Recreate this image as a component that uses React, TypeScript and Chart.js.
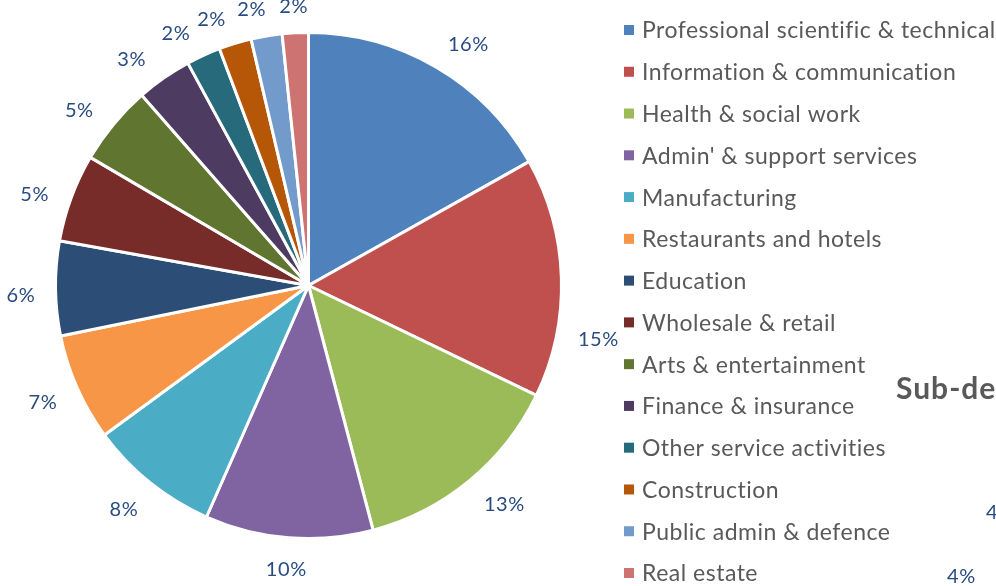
import React, { useEffect, useRef } from "react";
import { Chart, registerables } from "chart.js";

Chart.register(...registerables);

const categories = [
  "Professional scientific & technical",
  "Information & communication",
  "Health & social work",
  "Admin' & support services",
  "Manufacturing",
  "Restaurants and hotels",
  "Education",
  "Wholesale & retail",
  "Arts & entertainment",
  "Finance & insurance",
  "Other service activities",
  "Construction",
  "Public admin & defence",
  "Real estate",
];

const shares = [16.2, 14.7, 13.2, 10.3, 8.0, 6.6, 5.8, 5.4, 4.9, 3.4, 2.1, 2.0, 1.9, 1.6];

const sliceColors = [
  "#4F81BD",
  "#C0504D",
  "#9BBB59",
  "#8064A2",
  "#4BACC6",
  "#F79646",
  "#2C4D75",
  "#772C2A",
  "#5F7530",
  "#4D3B62",
  "#276A7C",
  "#B65708",
  "#729ACA",
  "#CD7371",
];

// fragments of a neighbouring chart visible at the right edge of the picture
const clippedTexts = ["Sub-de", "4", "4%"];

const FONT = "Lato, 'Open Sans', sans-serif";

const pieExtras = {
  id: "pieExtras",
  afterDatasetsDraw(chart: any, _args: any, opts: any) {
    const ctx: any = chart.ctx;
    const meta = chart.getDatasetMeta(0);
    const data = chart.data.datasets[0].data as number[];
    ctx.save();
    // percentage labels outside the slices
    ctx.font = `${opts.labelSize}px ${FONT}`;
    ctx.letterSpacing = "0.6px";
    ctx.fillStyle = opts.labelColor;
    ctx.textAlign = "center";
    ctx.textBaseline = "middle";
    meta.data.forEach((arc: any, i: number) => {
      const p = arc.getProps(["x", "y", "startAngle", "endAngle", "outerRadius"], true);
      const mid = (p.startAngle + p.endAngle) / 2 + ((opts.shift[i] || 0) * Math.PI) / 180;
      const txt = Math.round(data[i]) + "%";
      const w = ctx.measureText(txt).width;
      const h = opts.labelBox;
      const c = Math.cos(mid);
      const s = Math.sin(mid);
      const d = p.outerRadius + opts.gap + (Math.abs(c) * w) / 2 + (Math.abs(s) * h) / 2;
      ctx.fillText(txt, p.x + c * d, p.y + s * d + opts.drop);
    });

    // legend
    const labels = chart.data.labels as string[];
    const bg = chart.data.datasets[0].backgroundColor as string[];
    ctx.font = `${opts.legendSize}px ${FONT}`;
    ctx.letterSpacing = "0.5px";
    ctx.textAlign = "left";
    labels.forEach((lab, i) => {
      const yc = opts.legendTop + i * opts.legendStep;
      ctx.fillStyle = bg[i];
      ctx.fillRect(opts.legendX, yc - 5, 10, 10);
      ctx.fillStyle = "#595959";
      ctx.fillText(lab, opts.legendX + 18, yc + 1);
    });

    // clipped fragments of the neighbouring chart
    ctx.textAlign = "left";
    ctx.fillStyle = "#595959";
    ctx.font = `bold 30px ${FONT}`;
    ctx.letterSpacing = "1px";
    ctx.fillText(clippedTexts[0], 896, 389);
    ctx.fillStyle = opts.labelColor;
    ctx.font = `${opts.labelSize}px ${FONT}`;
    ctx.letterSpacing = "0.6px";
    ctx.fillText(clippedTexts[1], 986, 513);
    ctx.fillText(clippedTexts[2], 947, 577);
    ctx.restore();
  },
};

export default function App() {
  const ref = useRef<HTMLCanvasElement | null>(null);
  useEffect(() => {
    if (!ref.current) return;
    const chart = new Chart(ref.current, {
      type: "pie",
      data: {
        labels: categories,
        datasets: [
          {
            data: shares,
            backgroundColor: sliceColors,
            borderColor: "#ffffff",
            borderWidth: 3,
          },
        ],
      },
      options: {
        responsive: false,
        animation: false,
        layout: { padding: { left: 54, right: 433, top: 31, bottom: 46 } },
        plugins: {
          legend: { display: false },
          tooltip: { enabled: false },
          title: { display: false },
          pieExtras: {
            labelSize: 20,
            labelBox: 16,
            labelColor: "#284B82",
            gap: 20,
            drop: 2,
            shift: { 0: 3, 1: 12, 2: -2.5, 4: 1, 5: 0.5, 6: -1, 7: -1.5, 8: -2, 9: -3, 10: -3, 11: -3, 12: -2 },
            legendSize: 23,
            legendX: 624,
            legendTop: 30,
            legendStep: 41.77,
          },
        } as any,
      },
      plugins: [pieExtras],
    });
    return () => chart.destroy();
  }, []);
  return (
    <div style={{ position: "absolute", left: 0, top: 0, width: 996, height: 586, background: "#fff", overflow: "hidden" }}>
      <canvas ref={ref} width={996} height={586} style={{ display: "block" }} />
    </div>
  );
}
